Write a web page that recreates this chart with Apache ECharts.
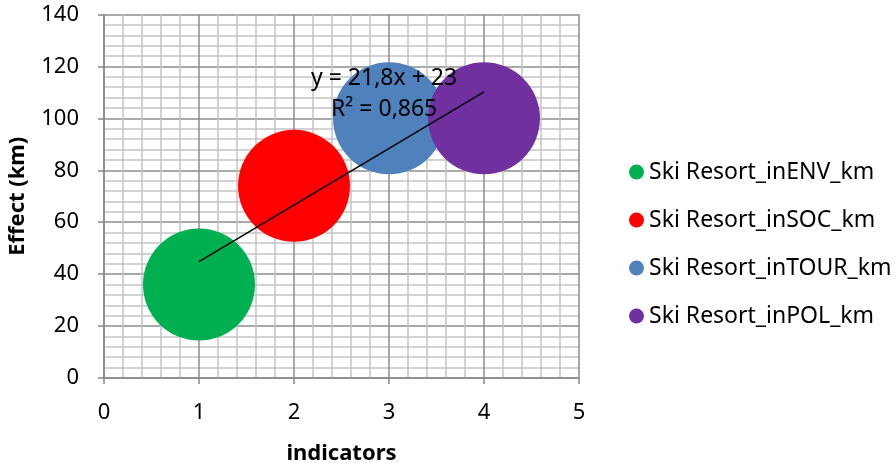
<!DOCTYPE html>
<html><head><meta charset="utf-8">
<script src="https://cdn.jsdelivr.net/npm/echarts@6/dist/echarts.min.js"></script>
<style>html,body{margin:0;padding:0;background:#fff}#c{width:896px;height:463px}</style>
</head><body><div id="c"></div>
<script>
const seriesNames = ['Ski Resort_inENV_km','Ski Resort_inSOC_km','Ski Resort_inTOUR_km','Ski Resort_inPOL_km'];
const xValues = [1, 2, 3, 4];
const yValues = [36, 74, 100, 100];
const colors = ['#00B050', '#FF0000', '#4F81BD', '#7030A0'];
const trendX = [1, 4];
const trendY = [44.8, 110.2];
const trendText = ['y = 21,8x + 23', 'R² = 0,865'];

const FONT = '"Noto Sans", sans-serif';
const chart = echarts.init(document.getElementById('c'), null, {renderer: 'canvas'});

const series = seriesNames.map((n, i) => ({
  name: n, type: 'scatter', symbol: 'circle', symbolSize: 112,
  itemStyle: {color: colors[i], opacity: 1},
  data: [[xValues[i], yValues[i]]], z: 2
}));
series.push({
  name: 'trend', type: 'line', symbol: 'none', z: 5,
  lineStyle: {color: '#000', width: 1.5},
  data: trendX.map((x, i) => [x, trendY[i]])
});

chart.setOption({
  animation: false,
  backgroundColor: '#fff',
  grid: {left: 104, right: 317, top: 14.5, bottom: 85, containLabel: false, outerBoundsMode: 'none'},
  xAxis: {
    type: 'value', min: 0, max: 5, interval: 1,
    name: 'indicators', nameLocation: 'middle', nameGap: 65,
    nameTextStyle: {fontFamily: FONT, fontWeight: 'bold', fontSize: 22, color: '#000'},
    axisLine: {show: true, lineStyle: {color: '#888', width: 1.5}},
    axisTick: {show: true, length: 6, lineStyle: {color: '#888', width: 1.5}},
    axisLabel: {fontFamily: FONT, fontSize: 22, color: '#000', margin: 24},
    splitLine: {show: true, lineStyle: {color: '#8c8c8c', width: 1.5}},
    minorTick: {show: false, splitNumber: 5},
    minorSplitLine: {show: true, lineStyle: {color: '#c4c4c4', width: 1.5}}
  },
  yAxis: {
    type: 'value', min: 0, max: 140, interval: 20,
    name: 'Effect (km)', nameLocation: 'middle', nameGap: 75,
    nameTextStyle: {fontFamily: FONT, fontWeight: 'bold', fontSize: 22, color: '#000'},
    axisLine: {show: true, lineStyle: {color: '#888', width: 1.5}},
    axisTick: {show: true, length: 6, lineStyle: {color: '#888', width: 1.5}},
    axisLabel: {fontFamily: FONT, fontSize: 22, color: '#000', margin: 25},
    splitLine: {show: true, lineStyle: {color: '#8c8c8c', width: 1.5}},
    minorTick: {show: false, splitNumber: 5},
    minorSplitLine: {show: true, lineStyle: {color: '#c4c4c4', width: 1.5}}
  },
  legend: {
    data: seriesNames.map(n => ({name: n, icon: 'circle'})),
    orient: 'vertical', left: 624, top: 154,
    itemWidth: 15, itemHeight: 15, itemGap: 22,
    textStyle: {fontFamily: FONT, fontSize: 23, lineHeight: 26, color: '#000'}
  },
  graphic: [
    {type: 'text', x: 311, y: 78, z: 100, style: {text: trendText[0], font: '23px ' + FONT, fill: '#000', verticalAlign: 'middle'}},
    {type: 'text', x: 331, y: 109, z: 100, style: {text: trendText[1], font: '23px ' + FONT, fill: '#000', verticalAlign: 'middle'}}
  ],
  series: series
});
</script></body></html>
